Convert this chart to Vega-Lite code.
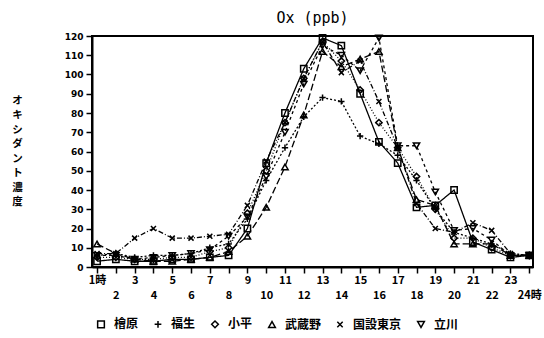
{
  "$schema": "https://vega.github.io/schema/vega-lite/v6.json",
  "autosize": "none",
  "width": 441,
  "height": 231,
  "padding": {"left": 92, "top": 36, "right": 11, "bottom": 71},
  "background": "white",
  "title": {"text": "Ox (ppb)", "font": "DejaVu Sans Mono", "fontSize": 15, "fontWeight": "normal", "color": "black", "offset": 6},
  "config": {
    "view": {"stroke": "black", "strokeWidth": 2},
    "axis": {"domainColor": "black", "tickColor": "black", "labelColor": "black", "titleColor": "black", "grid": false, "domainWidth": 2, "tickWidth": 1.5},
    "legend": {"labelFont": "Noto Sans CJK JP", "labelFontSize": 12, "labelFontWeight": "bold", "labelColor": "black"}
  },
  "data": {"values": [
    {"h":1,"s":"檜原","v":3},{"h":2,"s":"檜原","v":4},{"h":3,"s":"檜原","v":3},{"h":4,"s":"檜原","v":3},{"h":5,"s":"檜原","v":4},{"h":6,"s":"檜原","v":4},{"h":7,"s":"檜原","v":5},{"h":8,"s":"檜原","v":6},{"h":9,"s":"檜原","v":20},{"h":10,"s":"檜原","v":54},{"h":11,"s":"檜原","v":80},{"h":12,"s":"檜原","v":103},{"h":13,"s":"檜原","v":119},{"h":14,"s":"檜原","v":115},{"h":15,"s":"檜原","v":90},{"h":16,"s":"檜原","v":65},{"h":17,"s":"檜原","v":54},{"h":18,"s":"檜原","v":31},{"h":19,"s":"檜原","v":32},{"h":20,"s":"檜原","v":40},{"h":21,"s":"檜原","v":13},{"h":22,"s":"檜原","v":9},{"h":23,"s":"檜原","v":5},{"h":24,"s":"檜原","v":6},
    {"h":1,"s":"福生","v":6},{"h":2,"s":"福生","v":7},{"h":3,"s":"福生","v":5},{"h":4,"s":"福生","v":6},{"h":5,"s":"福生","v":6},{"h":6,"s":"福生","v":7},{"h":7,"s":"福生","v":10},{"h":8,"s":"福生","v":12},{"h":9,"s":"福生","v":25},{"h":10,"s":"福生","v":45},{"h":11,"s":"福生","v":62},{"h":12,"s":"福生","v":78},{"h":13,"s":"福生","v":88},{"h":14,"s":"福生","v":86},{"h":15,"s":"福生","v":68},{"h":16,"s":"福生","v":64},{"h":17,"s":"福生","v":58},{"h":18,"s":"福生","v":45},{"h":19,"s":"福生","v":30},{"h":20,"s":"福生","v":18},{"h":21,"s":"福生","v":15},{"h":22,"s":"福生","v":12},{"h":23,"s":"福生","v":7},{"h":24,"s":"福生","v":6},
    {"h":1,"s":"小平","v":5},{"h":2,"s":"小平","v":5},{"h":3,"s":"小平","v":4},{"h":4,"s":"小平","v":4},{"h":5,"s":"小平","v":5},{"h":6,"s":"小平","v":5},{"h":7,"s":"小平","v":8},{"h":8,"s":"小平","v":10},{"h":9,"s":"小平","v":28},{"h":10,"s":"小平","v":50},{"h":11,"s":"小平","v":75},{"h":12,"s":"小平","v":98},{"h":13,"s":"小平","v":117},{"h":14,"s":"小平","v":107},{"h":15,"s":"小平","v":92},{"h":16,"s":"小平","v":75},{"h":17,"s":"小平","v":62},{"h":18,"s":"小平","v":47},{"h":19,"s":"小平","v":30},{"h":20,"s":"小平","v":15},{"h":21,"s":"小平","v":15},{"h":22,"s":"小平","v":10},{"h":23,"s":"小平","v":6},{"h":24,"s":"小平","v":6},
    {"h":1,"s":"武蔵野","v":12},{"h":2,"s":"武蔵野","v":7},{"h":3,"s":"武蔵野","v":4},{"h":4,"s":"武蔵野","v":3},{"h":5,"s":"武蔵野","v":3},{"h":6,"s":"武蔵野","v":4},{"h":7,"s":"武蔵野","v":5},{"h":8,"s":"武蔵野","v":8},{"h":9,"s":"武蔵野","v":16},{"h":10,"s":"武蔵野","v":31},{"h":11,"s":"武蔵野","v":52},{"h":12,"s":"武蔵野","v":79},{"h":13,"s":"武蔵野","v":112},{"h":14,"s":"武蔵野","v":104},{"h":15,"s":"武蔵野","v":108},{"h":16,"s":"武蔵野","v":112},{"h":17,"s":"武蔵野","v":62},{"h":18,"s":"武蔵野","v":35},{"h":19,"s":"武蔵野","v":32},{"h":20,"s":"武蔵野","v":12},{"h":21,"s":"武蔵野","v":12},{"h":22,"s":"武蔵野","v":12},{"h":23,"s":"武蔵野","v":6},{"h":24,"s":"武蔵野","v":6},
    {"h":1,"s":"国設東京","v":7},{"h":2,"s":"国設東京","v":7},{"h":3,"s":"国設東京","v":15},{"h":4,"s":"国設東京","v":20},{"h":5,"s":"国設東京","v":15},{"h":6,"s":"国設東京","v":15},{"h":7,"s":"国設東京","v":16},{"h":8,"s":"国設東京","v":17},{"h":9,"s":"国設東京","v":32},{"h":10,"s":"国設東京","v":55},{"h":11,"s":"国設東京","v":75},{"h":12,"s":"国設東京","v":98},{"h":13,"s":"国設東京","v":117},{"h":14,"s":"国設東京","v":101},{"h":15,"s":"国設東京","v":107},{"h":16,"s":"国設東京","v":86},{"h":17,"s":"国設東京","v":62},{"h":18,"s":"国設東京","v":33},{"h":19,"s":"国設東京","v":20},{"h":20,"s":"国設東京","v":18},{"h":21,"s":"国設東京","v":23},{"h":22,"s":"国設東京","v":19},{"h":23,"s":"国設東京","v":7},{"h":24,"s":"国設東京","v":6},
    {"h":1,"s":"立川","v":6},{"h":2,"s":"立川","v":6},{"h":3,"s":"立川","v":4},{"h":4,"s":"立川","v":5},{"h":5,"s":"立川","v":6},{"h":6,"s":"立川","v":7},{"h":7,"s":"立川","v":9},{"h":8,"s":"立川","v":16},{"h":9,"s":"立川","v":26},{"h":10,"s":"立川","v":47},{"h":11,"s":"立川","v":70},{"h":12,"s":"立川","v":95},{"h":13,"s":"立川","v":115},{"h":14,"s":"立川","v":110},{"h":15,"s":"立川","v":102},{"h":16,"s":"立川","v":119},{"h":17,"s":"立川","v":63},{"h":18,"s":"立川","v":63},{"h":19,"s":"立川","v":39},{"h":20,"s":"立川","v":19},{"h":21,"s":"立川","v":20},{"h":22,"s":"立川","v":14},{"h":23,"s":"立川","v":6},{"h":24,"s":"立川","v":6}
  ]},
  "encoding": {
    "x": {"field": "h", "type": "quantitative",
      "scale": {"domain": [0.73, 24.2], "nice": false, "zero": false},
      "axis": {"title": null, "values": [1,2,3,4,5,6,7,8,9,10,11,12,13,14,15,16,17,18,19,20,21,22,23,24],
        "labelExpr": "datum.value % 2 == 1 ? (datum.value == 1 ? '1時' : '' + datum.value) : ['', datum.value == 24 ? '24時' : '' + datum.value]",
        "labelFont": "Noto Sans CJK JP", "labelFontSize": 11, "labelFontWeight": "bold", "labelLineHeight": 15,
        "tickSize": 6, "labelPadding": 1, "labelOverlap": false, "labelFlush": false}},
    "y": {"field": "v", "type": "quantitative",
      "scale": {"domain": [0, 120], "nice": false},
      "axis": {"values": [0,10,20,30,40,50,60,70,80,90,100,110,120],
        "labelFont": "DejaVu Sans", "labelFontSize": 9, "labelFontWeight": "bold", "tickSize": 6, "labelPadding": 3,
        "title": ["オ","キ","シ","ダ","ン","ト","濃","度"], "titleAngle": 0, "titleFont": "Noto Sans CJK JP", "titleFontSize": 10.5, "titleFontWeight": "bold", "titleLineHeight": 14.5, "titleAlign": "center", "titleBaseline": "top", "titleX": -75, "titleY": 59}}
  },
  "resolve": {"legend": {"shape": "independent", "strokeDash": "independent"}},
  "layer": [
    {"mark": {"type": "line", "color": "black", "strokeWidth": 1.3},
      "encoding": {"strokeDash": {"field": "s", "type": "nominal", "legend": null,
        "scale": {"domain": ["檜原","福生","小平","武蔵野","国設東京","立川"], "range": [[1,0],[2,2],[1,2],[7,3],[5,2,1,2],[3,3]]}}}},
    {"mark": {"type": "point", "filled": false, "color": "black", "strokeWidth": 1.5, "size": 40, "opacity": 1},
      "encoding": {"shape": {"field": "s", "type": "nominal",
        "scale": {"domain": ["檜原","福生","小平","武蔵野","国設東京","立川"], "range": ["square", "M-1,0L1,0M0,-1L0,1", "diamond", "triangle-up", "M-0.8,-0.8L0.8,0.8M-0.8,0.8L0.8,-0.8", "triangle-down"]},
        "legend": {"title": null, "orient": "none", "direction": "horizontal", "legendX": 3, "legendY": 282, "columns": 6, "columnPadding": 12, "symbolSize": 45, "symbolStrokeColor": "black", "symbolStrokeWidth": 1.5, "symbolFillColor": "transparent", "labelOffset": 7}}}}
  ]
}
